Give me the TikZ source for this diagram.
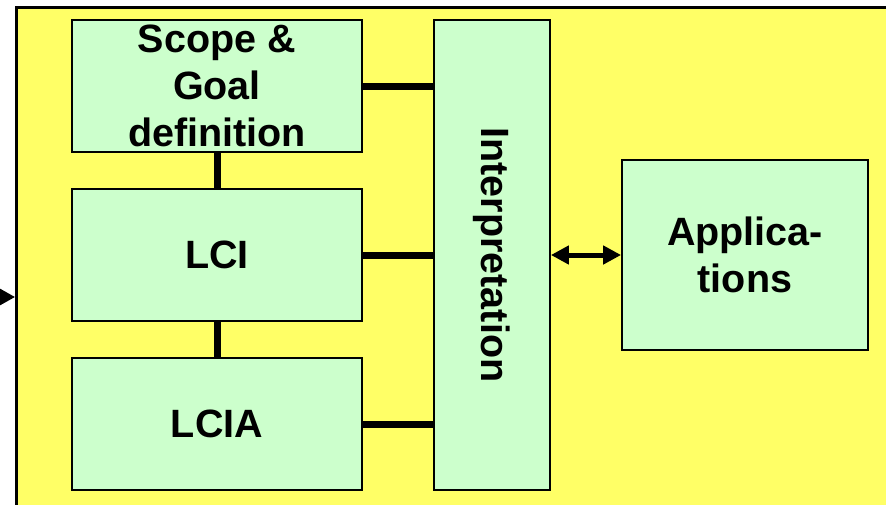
\documentclass[tikz,border=0pt]{standalone}
\usepackage{fontspec}
\usepackage{graphicx}
\setmainfont{Liberation Sans}
\usetikzlibrary{arrows.meta}

\definecolor{frameyellow}{RGB}{255,255,102}
\definecolor{stagegreen}{RGB}{204,255,204}

\tikzstyle{frame}=[draw, line width = 3pt, fill = frameyellow, anchor = north west,
  minimum width = 900pt, minimum height = 540pt]
\tikzstyle{stage}=[draw, line width = 1.8pt, fill = stagegreen, align = center,
  inner sep = 0pt, font = \bfseries\fontsize{39.5}{47}\selectfont]
\tikzstyle{link}=[line width = 7pt]
\tikzstyle{flow}=[line width = 5pt, -{Triangle[length = 18pt, width = 18pt]}]

\begin{document}
\begin{tikzpicture}[x = 1pt, y = -1pt]
\clip (0,0) rectangle (886,504);
\draw(15,6) node[frame](frame){};
\coordinate (source) at (-20,297);
\draw[flow, line width = 3pt, -{Triangle[length = 16pt, width = 17pt]}]
  (source) -- (source -| frame.west);
%
\draw(217,86) node[stage, minimum width = 290pt, minimum height = 132pt]
  (scope){Scope \&\\Goal\\definition};
\draw(217,255) node[stage, minimum width = 290pt, minimum height = 132pt]
  (lci){LCI};
\draw(217,424) node[stage, minimum width = 290pt, minimum height = 132pt]
  (lcia){LCIA};
\draw[link] (scope) -- (lci);
\draw[link] (lci) -- (lcia);
%
\draw(492,255) node[stage, minimum width = 116pt, minimum height = 470pt]
  (interp){\rotatebox{-90}{Interpretation}};
\draw[link] (scope.east) -- (scope.east -| interp.west);
\draw[link] (lci) -- (interp);
\draw[link] (lcia.east) -- (lcia.east -| interp.west);
%
\draw(745,255) node[stage, minimum width = 246pt, minimum height = 190pt]
  (apps){Applica-\\tions};
\draw[flow, {Triangle[length = 18pt, width = 18pt]}-{Triangle[length = 18pt, width = 18pt]}]
  (interp) -- (apps);
\end{tikzpicture}
\end{document}
